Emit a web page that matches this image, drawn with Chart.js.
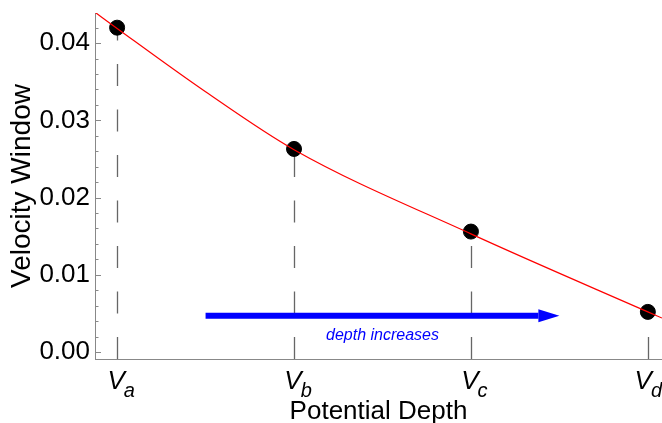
<!DOCTYPE html>
<html>
<head>
  <title>Velocity Window</title>
  <script src="https://cdn.jsdelivr.net/npm/chart.js"></script>
  <style>
    html, body { margin: 0; padding: 0; background: #fff; }
    #wrap { width: 662px; height: 423px; }
  </style>
</head>
<body>
  <div id="wrap"><canvas id="velChart"></canvas></div>

  <script>
    // ====================
    // data
    // ====================
    const depthPos = [0, 1, 2, 3];
    const depthSubs = ['a', 'b', 'c', 'd'];
    const velocityWindow = [0.0420, 0.0263, 0.0156, 0.0052];

    // fitted red curve, sampled by eye
    const curveX = [-0.125, 0, 0.5, 1, 2, 3, 3.08];
    const curveY = [0.0440, 0.0419, 0.0337, 0.0262, 0.0153, 0.0052, 0.0044];

    const yTicks = [0, 0.01, 0.02, 0.03, 0.04];

    // arrow annotation (data coords)
    const arrowFrom = 0.5;
    const arrowTo = 2.5;
    const arrowY = 0.0047;
    const arrowText = 'depth increases';
    const arrowTextY = 0.0015;

    const FONT = '"Liberation Sans", Arial, sans-serif';

    const decorPlugin = {
      id: 'decor',
      beforeDatasetsDraw(chart) {
        const ctx = chart.ctx;
        const xs = chart.scales.x, ys = chart.scales.y;
        const area = chart.chartArea;
        ctx.save();

        // dashed drop lines
        ctx.strokeStyle = '#666';
        ctx.lineWidth = 1.3;
        ctx.setLineDash([22, 23.5]);
        depthPos.forEach((p, i) => {
          const x = Math.round(xs.getPixelForValue(p)) + 0.5;
          ctx.beginPath();
          ctx.moveTo(x, area.bottom);
          ctx.lineTo(x, ys.getPixelForValue(velocityWindow[i]));
          ctx.stroke();
        });
        ctx.setLineDash([]);

        // y ticks drawn inside the frame, with minor ticks
        ctx.strokeStyle = '#888';
        ctx.lineWidth = 1;
        for (let k = 0; k <= 21; k++) {
          const y = Math.round(ys.getPixelForValue(k * 0.002)) + 0.5;
          const len = k % 5 === 0 ? 6 : 3.5;
          ctx.beginPath();
          ctx.moveTo(area.left, y);
          ctx.lineTo(area.left + len, y);
          ctx.stroke();
        }

        // blue arrow
        const x1 = xs.getPixelForValue(arrowFrom);
        const x2 = xs.getPixelForValue(arrowTo);
        const ay = ys.getPixelForValue(arrowY);
        const headLen = 21;
        ctx.fillStyle = '#0000ff';
        ctx.fillRect(x1, ay - 3, x2 - headLen - x1, 6);
        ctx.beginPath();
        ctx.moveTo(x2 - headLen, ay - 6.5);
        ctx.lineTo(x2, ay);
        ctx.lineTo(x2 - headLen, ay + 6.5);
        ctx.closePath();
        ctx.fill();

        ctx.font = 'italic 16px ' + FONT;
        ctx.textAlign = 'center';
        ctx.textBaseline = 'alphabetic';
        ctx.fillText(arrowText, xs.getPixelForValue((arrowFrom + arrowTo) / 2), ys.getPixelForValue(arrowTextY));
        ctx.restore();
      },
      afterDraw(chart) {
        // x tick labels: V with italic subscript, kept inside the canvas
        const ctx = chart.ctx;
        const xs = chart.scales.x;
        ctx.save();
        ctx.fillStyle = '#000';
        ctx.textBaseline = 'alphabetic';
        ctx.textAlign = 'left';
        depthPos.forEach((p, i) => {
          ctx.font = 'italic 20px ' + FONT;
          const ws = ctx.measureText(depthSubs[i]).width;
          ctx.font = 'italic 26px ' + FONT;
          const w = ctx.measureText('V').width;
          let left = xs.getPixelForValue(p) - w / 2 - 1;
          const overflow = left + w - 2 + ws + 1 - chart.width;
          if (overflow > 0) left -= overflow;
          ctx.fillText('V', left, xs.top + 30);
          ctx.font = 'italic 20px ' + FONT;
          ctx.fillText(depthSubs[i], left + w - 1, xs.top + 38);
        });
        ctx.restore();
      }
    };

    new Chart(document.getElementById('velChart'), {
      type: 'scatter',
      data: {
        datasets: [{
          label: 'fit',
          data: curveX.map((x, i) => ({ x: x, y: curveY[i] })),
          showLine: true,
          borderColor: '#ff0000',
          borderWidth: 1.2,
          pointRadius: 0,
          cubicInterpolationMode: 'monotone'
        }, {
          label: 'points',
          data: depthPos.map((x, i) => ({ x: x, y: velocityWindow[i] })),
          backgroundColor: '#000',
          borderColor: '#000',
          pointRadius: 7.5,
          pointHoverRadius: 7.5
        }]
      },
      options: {
        responsive: true,
        maintainAspectRatio: false,
        animation: false,
        events: [],
        layout: { autoPadding: false, padding: { top: 13, right: 0, bottom: 0, left: 0 } },
        plugins: { legend: { display: false }, tooltip: { enabled: false } },
        scales: {
          x: {
            type: 'linear',
            min: -0.125,
            max: 3.08,
            grid: { display: false, drawTicks: false },
            border: { display: true, color: '#888', width: 1 },
            ticks: { display: false },
            title: {
              display: true,
              text: 'Potential Depth',
              color: '#000',
              font: { family: FONT, size: 26, lineHeight: 1 },
              padding: { top: 0, bottom: -2 }
            },
            afterFit(scale) {
              scale.height = 64;
              scale.paddingLeft = 0;
              scale.paddingRight = 0;
            }
          },
          y: {
            min: -0.0009,
            max: 0.0439,
            afterBuildTicks(scale) { scale.ticks = yTicks.map(v => ({ value: v })); },
            grid: { display: false, drawTicks: false },
            border: { display: true, color: '#888', width: 1 },
            ticks: {
              color: '#000',
              padding: 5,
              font: { family: FONT, size: 26 },
              callback: v => v.toFixed(2)
            },
            title: {
              display: true,
              text: 'Velocity Window',
              color: '#000',
              font: { family: FONT, size: 28, lineHeight: 1 },
              padding: { top: 8, bottom: 0 }
            },
            afterFit(scale) {
              scale.width = 95;
              scale.paddingTop = 0;
              scale.paddingBottom = 0;
            }
          }
        }
      },
      plugins: [decorPlugin]
    });
  </script>
</body>
</html>
